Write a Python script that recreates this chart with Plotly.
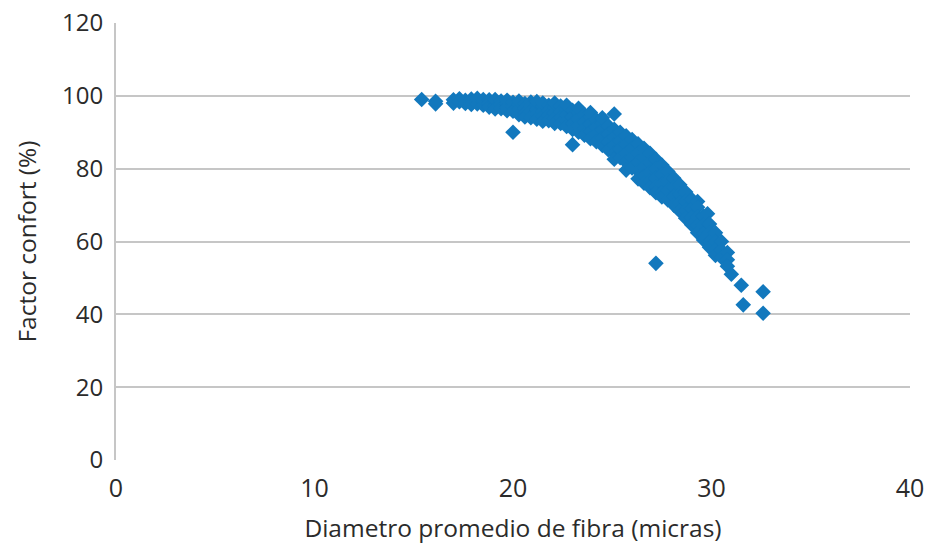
import plotly.graph_objects as go

# Fibre diameter (microns) and comfort factor (%) per sample, grouped by diameter
diametro = (
    [15.4, 16.1, 16.1]
    + [17.0, 17.0, 17.3, 17.3, 17.6, 17.6]
    + [17.9, 17.9, 17.9, 18.2, 18.2, 18.2, 18.5, 18.5, 18.5]
    + [18.8, 18.8, 18.8, 19.1, 19.1, 19.1, 19.1, 19.4, 19.4, 19.4]
    + [19.7, 19.7, 19.7, 19.7, 20.0, 20.0, 20.0, 20.0]
    + [20.3, 20.3, 20.3, 20.3, 20.6, 20.6, 20.6, 20.6, 20.9, 20.9, 20.9, 20.9]
    + [21.2, 21.2, 21.2, 21.2, 21.2, 21.5, 21.5, 21.5, 21.5, 21.5]
    + [21.8, 21.8, 21.8, 21.8, 22.1, 22.1, 22.1, 22.1, 22.1]
    + [22.4, 22.4, 22.4, 22.4, 22.7, 22.7, 22.7, 22.7, 22.7]
    + [23.0, 23.0, 23.0, 23.0, 23.0, 23.3, 23.3, 23.3, 23.3, 23.3]
    + [23.6, 23.6, 23.6, 23.6, 23.9, 23.9, 23.9, 23.9, 23.9]
    + [24.2, 24.2, 24.2, 24.2, 24.5, 24.5, 24.5, 24.5, 24.5]
    + [24.8, 24.8, 24.8, 24.8, 25.1, 25.1, 25.1, 25.1, 25.1, 25.1]
    + [25.4, 25.4, 25.4, 25.4, 25.7, 25.7, 25.7, 25.7, 25.7]
    + [26.0, 26.0, 26.0, 26.0, 26.3, 26.3, 26.3, 26.3, 26.3]
    + [26.6, 26.6, 26.6, 26.6, 26.6, 26.9, 26.9, 26.9, 26.9, 26.9]
    + [27.2, 27.2, 27.2, 27.2, 27.2, 27.2, 27.5, 27.5, 27.5, 27.5, 27.5]
    + [27.8, 27.8, 27.8, 27.8, 28.1, 28.1, 28.1, 28.1]
    + [28.4, 28.4, 28.4, 28.4, 28.7, 28.7, 28.7, 28.7]
    + [29.0, 29.0, 29.0, 29.0, 29.3, 29.3, 29.3, 29.3, 29.3]
    + [29.6, 29.6, 29.6, 29.6, 29.8, 29.9, 29.9, 29.9, 29.9]
    + [30.2, 30.2, 30.2, 30.2, 30.5, 30.5, 30.5, 30.8, 30.8, 30.8]
    + [31.0, 31.5, 31.6, 32.6, 32.6]
)

confort = (
    [99.0, 98.5, 97.8]
    + [98.9, 98.0, 99.2, 98.4, 98.8, 97.9]
    + [99.1, 98.2, 97.6, 98.7, 97.8, 99.3, 98.4, 97.4, 99.0]
    + [98.9, 97.9, 96.9, 98.3, 97.2, 99.0, 96.4, 98.6, 97.6, 96.5]
    + [97.9, 96.8, 98.8, 95.9, 90.0, 98.2, 97.0, 95.8]
    + [97.6, 96.4, 98.6, 94.8, 97.9, 96.6, 95.3, 94.2, 98.3, 97.2, 95.8, 94.0]
    + [97.6, 96.3, 95.0, 93.6, 98.4, 97.0, 95.7, 94.3, 98.0, 93.0]
    + [97.4, 96.0, 94.6, 93.2, 96.8, 95.3, 93.8, 98.0, 92.4]
    + [97.2, 95.6, 94.0, 92.4, 96.4, 94.8, 93.0, 91.6, 97.4]
    + [86.6, 96.0, 94.2, 92.4, 90.8, 95.4, 93.6, 91.8, 90.0, 96.6]
    + [94.8, 92.8, 91.0, 89.2, 94.2, 92.2, 90.2, 88.2, 95.4]
    + [93.4, 91.4, 89.4, 87.4, 92.6, 90.6, 88.4, 86.4, 94.0]
    + [91.8, 89.6, 87.4, 85.2, 95.0, 90.8, 88.6, 86.4, 84.2, 82.6]
    + [90.0, 87.6, 85.4, 83.0, 89.0, 86.6, 84.2, 81.8, 79.6]
    + [88.0, 85.6, 83.0, 80.2, 86.8, 84.2, 81.8, 79.4, 77.2]
    + [85.6, 83.0, 80.4, 78.0, 76.0, 84.2, 81.6, 79.0, 76.6, 74.8]
    + [54.0, 82.6, 80.0, 77.4, 75.0, 73.4, 81.0, 78.4, 75.8, 73.4, 72.2]
    + [79.2, 76.6, 74.0, 71.4, 77.4, 74.8, 72.4, 70.0]
    + [75.6, 73.0, 70.6, 68.4, 73.6, 71.0, 68.6, 66.4]
    + [71.6, 69.0, 66.6, 64.6, 71.0, 69.4, 66.8, 64.4, 62.4]
    + [67.0, 64.6, 62.2, 60.4, 67.6, 64.8, 62.4, 60.0, 58.4]
    + [62.4, 60.0, 57.8, 56.2, 60.0, 57.6, 55.6, 57.0, 55.0, 53.2]
    + [51.0, 48.0, 42.6, 46.2, 40.3]
)

x_ticks = [0, 10, 20, 30, 40]
y_ticks = [0, 20, 40, 60, 80, 100, 120]

font_family = "Open Sans, Noto Sans, sans-serif"
text_color = "#2b2b2b"
grid_color = "#c6c6c6"

fig = go.Figure(
    go.Scatter(
        x=diametro,
        y=confort,
        mode="markers",
        marker=dict(symbol="diamond", size=12, color="#1278bd", line=dict(width=0)),
        hoverinfo="x+y",
    )
)

fig.update_layout(
    width=932,
    height=550,
    margin=dict(l=116, r=22, t=23, b=90),
    paper_bgcolor="white",
    plot_bgcolor="white",
    showlegend=False,
    font=dict(family=font_family, size=24, color=text_color),
)

fig.update_xaxes(
    range=[0, 40],
    tickvals=x_ticks,
    automargin=False,
    showgrid=False,
    zeroline=False,
    showline=False,
    ticks="outside",
    ticklen=6,
    tickcolor="rgba(0,0,0,0)",
    tickfont=dict(size=25),
    title=dict(text="Diametro promedio de fibra (micras)", font=dict(size=24.5), standoff=16),
)

fig.update_yaxes(
    range=[0, 120],
    tickvals=y_ticks,
    automargin=False,
    showgrid=True,
    gridcolor=grid_color,
    gridwidth=2,
    zeroline=False,
    showline=True,
    linecolor=grid_color,
    linewidth=2,
    ticks="outside",
    ticklen=6,
    tickcolor="rgba(0,0,0,0)",
    tickfont=dict(size=24),
    title=dict(text="Factor confort (%)", font=dict(size=24.5), standoff=18),
)

fig.write_html("out.html")
